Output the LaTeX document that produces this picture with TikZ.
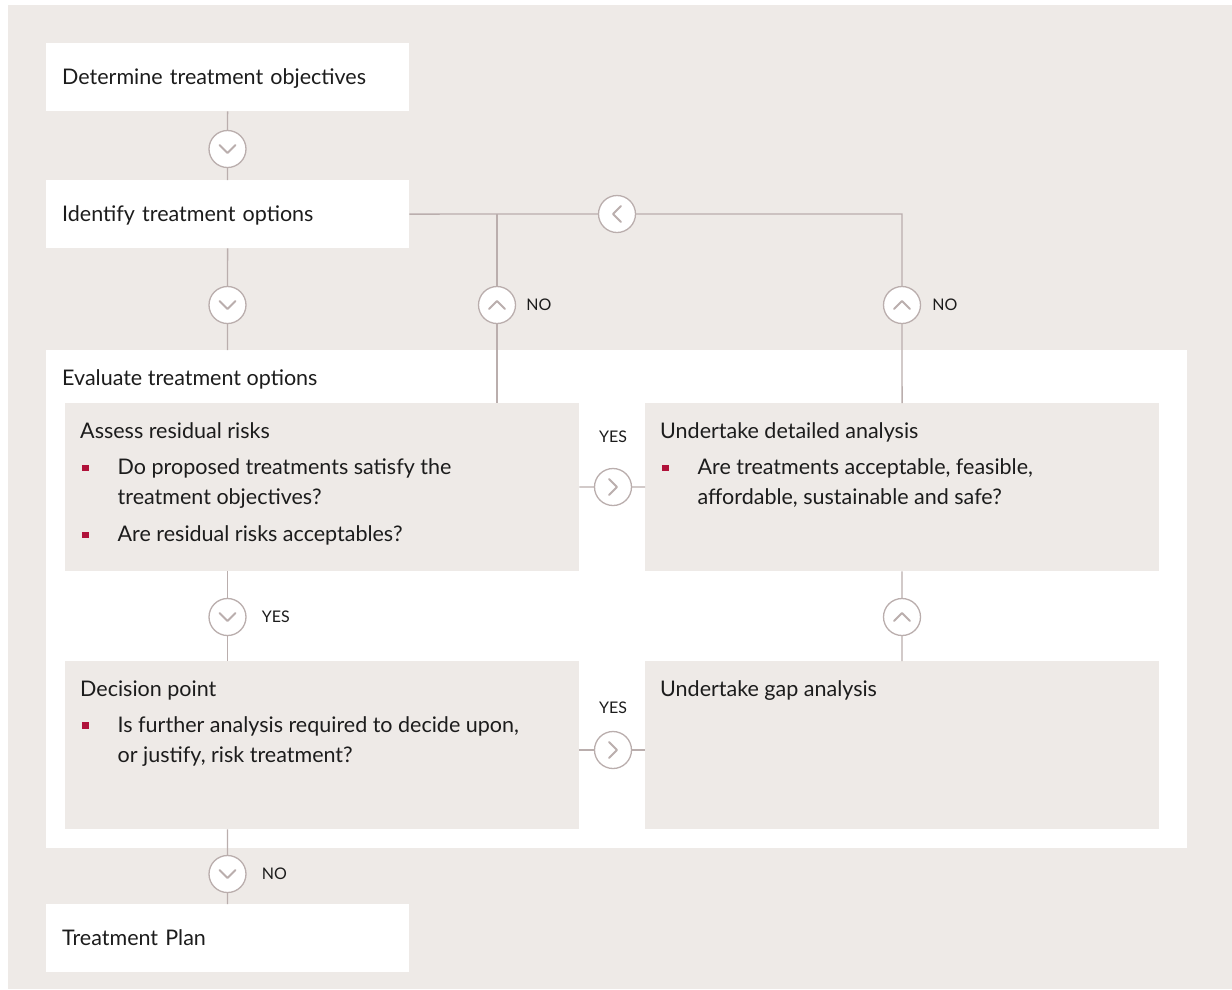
\documentclass[tikz,border=0pt]{standalone}
\usepackage{fontspec}
\setmainfont{Lato}
\usetikzlibrary{positioning}

\definecolor{paper}{RGB}{238,234,231}
\definecolor{linegrey}{RGB}{186,174,173}
\definecolor{bulletred}{RGB}{176,18,58}
\definecolor{ink}{RGB}{28,28,28}

\newcommand\bodyfont{\fontsize{21.5}{30}\selectfont}
\newcommand\flagfont{\fontsize{16}{18}\selectfont}
% square bullet, then hanging indent for wrapped lines
\newcommand\bul{\hspace*{2pt}\makebox[35.5pt][l]{\textcolor{bulletred}{\raisebox{3.5pt}{\rule{6.5pt}{6.5pt}}}}}
\newcommand\hang{\hspace*{37.5pt}}

\tikzset{
  stage/.style={fill=white, text width=331pt, inner xsep=16pt, inner ysep=0pt,
    text height=15pt, text depth=1pt,
    minimum height=68pt, align=left, anchor=north west, font=\bodyfont, text=ink},
  block/.style={fill=paper, minimum width=514pt, minimum height=168pt,
    anchor=north west, inner sep=0pt},
  blocktext/.style={align=left, inner sep=0pt, anchor=north west, font=\bodyfont, text=ink},
  wire/.style={draw=linegrey, line width=1.3pt},
  knob/.style={circle, draw=linegrey, fill=white, line width=1.3pt,
    minimum size=37pt, inner sep=0pt},
  flag/.style={font=\flagfont, text=ink, inner sep=0pt},
  chev/.pic={\draw[draw=linegrey, line width=2pt, line cap=round, line join=round]
    (-8pt,4pt) -- (0pt,-4pt) -- (8pt,4pt);}
}

\begin{document}
\begin{tikzpicture}[x=1pt, y=-1pt]
  \useasboundingbox (0,0) rectangle (1232,989);
  \fill[paper] (8,5) rectangle (1232,989);

  % outer steps
  \node[stage] (objectives) at (46,43) {Determine treatment objectives};
  \node[stage] (options) at (46,180) {Identify treatment options};
  \node[stage] (plan) at (46,904) {Treatment Plan};

  % evaluation panel with its four blocks
  \node[fill=white, minimum width=1141pt, minimum height=498pt, anchor=north west, inner sep=0pt]
    (eval) at (46,350) {};
  \node[blocktext, anchor=west] (evaltitle) at (62,379) {Evaluate treatment options};

  \node[block] (assess) at (65,403) {};
  \node[block] (detailed) at (645,403) {};
  \node[block] (decision) at (65,661) {};
  \node[block] (gap) at (645,661) {};

  \node[blocktext, below right=19.5pt and 15pt of assess.north west] {Assess residual risks\\[6pt]
    \bul Do proposed treatments satisfy the\\
    \hang treatment objectives?\\[7pt]
    \bul Are residual risks acceptables?};
  \node[blocktext, below right=19.5pt and 15pt of detailed.north west] {Undertake detailed analysis\\[6pt]
    \bul Are treatments acceptable, feasible,\\
    \hang affordable, sustainable and safe?};
  \node[blocktext, below right=19.5pt and 15pt of decision.north west] {Decision point\\[6pt]
    \bul Is further analysis required to decide upon,\\
    \hang or justify, risk treatment?};
  \node[blocktext, below right=19.5pt and 15pt of gap.north west] {Undertake gap analysis};

  % direction knobs
  \node[knob] (k1) at (227.5,149) {};
  \node[knob] (k2) at (227.5,305) {};
  \node[knob] (k3) at (617,214) {};
  \node[knob] (k4) at (497,305) {};
  \node[knob] (k5) at (902,305) {};
  \node[knob] (k6) at (613,487) {};
  \node[knob] (k7) at (227.5,617) {};
  \node[knob] (k8) at (902,617) {};
  \node[knob] (k9) at (613,750) {};
  \node[knob] (k10) at (227.5,874) {};

  \pic at (k1) {chev};
  \pic at (k2) {chev};
  \pic[rotate=-90] at (k3) {chev};
  \pic[rotate=180] at (k4) {chev};
  \pic[rotate=180] at (k5) {chev};
  \pic[rotate=90] at (k6) {chev};
  \pic at (k7) {chev};
  \pic[rotate=180] at (k8) {chev};
  \pic[rotate=90] at (k9) {chev};
  \pic at (k10) {chev};

  % connectors
  \draw[wire] (objectives) -- (k1) -- (options);
  \draw[wire] (options) -- (k2) -- (k2 |- eval.north);
  \draw[wire] (options) -- (k3) -- (k3 -| k5) -- (k5) -- (detailed);
  \draw[wire] (k4 |- k3) -- (k4) -- (k4 |- assess.north);
  \draw[wire] (assess) -- (k6) -- (detailed);
  \draw[wire] (k7 |- assess.south) -- (k7) -- (k7 |- decision.north);
  \draw[wire] (detailed) -- (k8) -- (gap);
  \draw[wire] (decision.east |- k9) -- (k9) -- (gap.west |- k9);
  \draw[wire] (k10 |- decision.south) -- (k10) -- (plan);

  % answers
  \node[flag, right=10pt of k4] {NO};
  \node[flag, right=11pt of k5] {NO};
  \node[flag, above=25pt of k6] {YES};
  \node[flag, right=15pt of k7] {YES};
  \node[flag, above=17pt of k9] {YES};
  \node[flag, right=15pt of k10] {NO};
\end{tikzpicture}
\end{document}
